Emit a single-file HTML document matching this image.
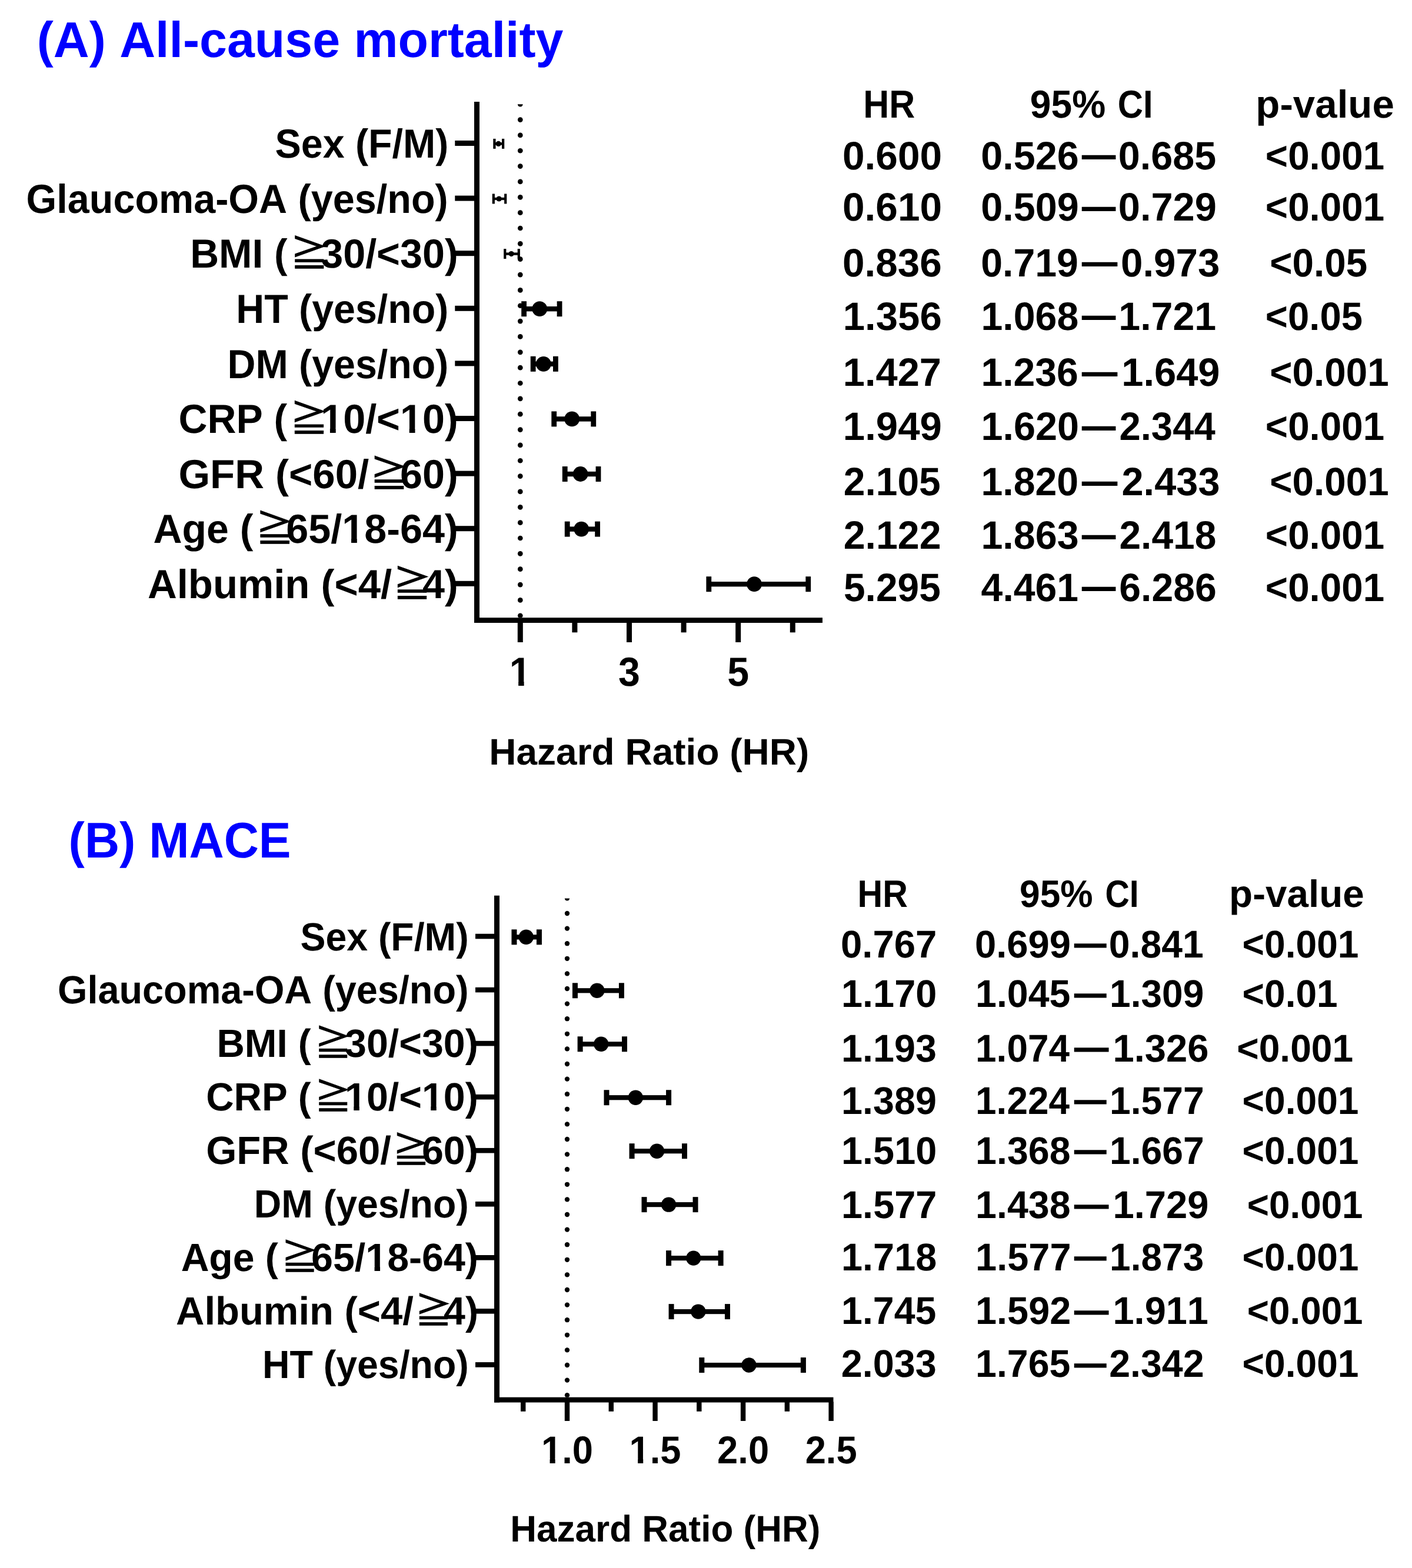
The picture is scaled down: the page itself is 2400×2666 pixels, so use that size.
<!DOCTYPE html>
<html lang="en">
<head>
<meta charset="utf-8">
<title>Forest plot: hazard ratios for all-cause mortality and MACE</title>
<style>
html,body{margin:0;padding:0;background:#fff;}
body{width:2400px;height:2666px;overflow:hidden;}
svg{display:block;}
text{font-family:"Liberation Sans",Arial,Helvetica,sans-serif;font-weight:700;white-space:pre;font-kerning:none;font-variant-ligatures:none;text-rendering:geometricPrecision;}
text.g{font-family:"IPAGothic","Noto Sans CJK JP","WenQuanYi Zen Hei",sans-serif;font-weight:400;}
</style>
</head>
<body>
<svg width="2400" height="2666" viewBox="0 0 2400 2666">
<rect x="0" y="0" width="2400" height="2666" fill="#fff"/>
<g id="panelA">
<text class="a" transform="translate(62.80 96.50) scale(0.9859 1.0000)" font-size="85.50" fill="#0000ff">(A) All-cause mortality</text>
<rect x="806.00" y="173.00" width="9.00" height="886.00" fill="#000"/>
<rect x="806.00" y="1050.20" width="592.00" height="8.80" fill="#000"/>
<rect x="879.80" y="1058.00" width="9.00" height="34.00" fill="#000"/>
<text class="a" transform="translate(865.86 1165.70) scale(1.0000 1.0400)" font-size="66.30" fill="#000">1</text>
<rect class="m" x="868.52" y="1157.46" width="12.62" height="9.24" fill="#fff"/>
<rect class="m" x="890.63" y="1157.46" width="11.56" height="9.24" fill="#fff"/>
<rect x="1065.00" y="1058.00" width="9.00" height="34.00" fill="#000"/>
<text class="a" transform="translate(1051.06 1165.70) scale(1.0000 1.0400)" font-size="66.30" fill="#000">3</text>
<rect x="1250.20" y="1058.00" width="9.00" height="34.00" fill="#000"/>
<text class="a" transform="translate(1236.26 1165.70) scale(1.0000 1.0400)" font-size="66.30" fill="#000">5</text>
<rect x="972.40" y="1058.00" width="9.00" height="17.30" fill="#000"/>
<rect x="1157.60" y="1058.00" width="9.00" height="17.30" fill="#000"/>
<rect x="1342.80" y="1058.00" width="9.00" height="17.30" fill="#000"/>
<clipPath id="clip173"><rect x="874.30" y="177.30" width="20" height="872.90"/></clipPath>
<g clip-path="url(#clip173)">
<circle cx="884.30" cy="177.20" r="4.35" fill="#000"/>
<circle cx="884.30" cy="203.55" r="4.35" fill="#000"/>
<circle cx="884.30" cy="229.90" r="4.35" fill="#000"/>
<circle cx="884.30" cy="256.25" r="4.35" fill="#000"/>
<circle cx="884.30" cy="282.60" r="4.35" fill="#000"/>
<circle cx="884.30" cy="308.95" r="4.35" fill="#000"/>
<circle cx="884.30" cy="335.30" r="4.35" fill="#000"/>
<circle cx="884.30" cy="361.65" r="4.35" fill="#000"/>
<circle cx="884.30" cy="388.00" r="4.35" fill="#000"/>
<circle cx="884.30" cy="414.35" r="4.35" fill="#000"/>
<circle cx="884.30" cy="440.70" r="4.35" fill="#000"/>
<circle cx="884.30" cy="467.05" r="4.35" fill="#000"/>
<circle cx="884.30" cy="493.40" r="4.35" fill="#000"/>
<circle cx="884.30" cy="519.75" r="4.35" fill="#000"/>
<circle cx="884.30" cy="546.10" r="4.35" fill="#000"/>
<circle cx="884.30" cy="572.45" r="4.35" fill="#000"/>
<circle cx="884.30" cy="598.80" r="4.35" fill="#000"/>
<circle cx="884.30" cy="625.15" r="4.35" fill="#000"/>
<circle cx="884.30" cy="651.50" r="4.35" fill="#000"/>
<circle cx="884.30" cy="677.85" r="4.35" fill="#000"/>
<circle cx="884.30" cy="704.20" r="4.35" fill="#000"/>
<circle cx="884.30" cy="730.55" r="4.35" fill="#000"/>
<circle cx="884.30" cy="756.90" r="4.35" fill="#000"/>
<circle cx="884.30" cy="783.25" r="4.35" fill="#000"/>
<circle cx="884.30" cy="809.60" r="4.35" fill="#000"/>
<circle cx="884.30" cy="835.95" r="4.35" fill="#000"/>
<circle cx="884.30" cy="862.30" r="4.35" fill="#000"/>
<circle cx="884.30" cy="888.65" r="4.35" fill="#000"/>
<circle cx="884.30" cy="915.00" r="4.35" fill="#000"/>
<circle cx="884.30" cy="941.35" r="4.35" fill="#000"/>
<circle cx="884.30" cy="967.70" r="4.35" fill="#000"/>
<circle cx="884.30" cy="994.05" r="4.35" fill="#000"/>
<circle cx="884.30" cy="1020.40" r="4.35" fill="#000"/>
<circle cx="884.30" cy="1046.75" r="4.35" fill="#000"/>
</g>
<rect x="773.30" y="239.00" width="33.70" height="9.00" fill="#000"/>
<text class="a" transform="translate(467.61 268.10) scale(1.0000 1.0400)" font-size="66.30" fill="#000">Sex (F/M)</text>
<rect x="840.41" y="242.25" width="14.72" height="4.30" fill="#000"/>
<rect x="838.31" y="235.90" width="4.20" height="17.00" fill="#000"/>
<rect x="853.03" y="235.90" width="4.20" height="17.00" fill="#000"/>
<circle cx="847.26" cy="244.40" r="4.60" fill="#000"/>
<rect x="773.30" y="332.60" width="33.70" height="9.00" fill="#000"/>
<text class="a" transform="translate(44.57 361.70) scale(1.0034 1.0400)" font-size="66.30" fill="#000">Glaucoma-OA (yes/no)</text>
<rect x="838.83" y="335.85" width="20.37" height="4.30" fill="#000"/>
<rect x="836.73" y="329.50" width="4.20" height="17.00" fill="#000"/>
<rect x="857.11" y="329.50" width="4.20" height="17.00" fill="#000"/>
<circle cx="848.19" cy="338.00" r="4.60" fill="#000"/>
<rect x="773.30" y="426.20" width="33.70" height="9.00" fill="#000"/>
<text class="a" transform="translate(323.17 455.30) scale(1.0214 1.0400)" font-size="66.30" fill="#000">BMI (</text>
<text class="a" transform="translate(545.19 455.30) scale(1.0300 1.0400)" font-size="66.30" fill="#000">30/&lt;30)</text>
<text class="g" transform="translate(490.68 456.15) scale(1.05 1.053)" font-size="66.78" stroke="#000" stroke-width="1.0">≧</text>
<rect x="858.28" y="429.45" width="23.52" height="4.30" fill="#000"/>
<rect x="856.18" y="423.10" width="4.20" height="17.00" fill="#000"/>
<rect x="879.70" y="423.10" width="4.20" height="17.00" fill="#000"/>
<circle cx="869.11" cy="431.60" r="4.60" fill="#000"/>
<rect x="773.30" y="519.80" width="33.70" height="9.00" fill="#000"/>
<text class="a" transform="translate(401.31 548.90) scale(1.0000 1.0400)" font-size="66.30" fill="#000">HT (yes/no)</text>
<rect x="890.60" y="521.00" width="60.47" height="8.40" fill="#000"/>
<rect x="886.20" y="512.20" width="8.80" height="26.00" fill="#000"/>
<rect x="946.66" y="512.20" width="8.80" height="26.00" fill="#000"/>
<circle cx="917.27" cy="525.20" r="12.90" fill="#000"/>
<rect x="773.30" y="613.40" width="33.70" height="9.00" fill="#000"/>
<text class="a" transform="translate(386.58 642.50) scale(1.0000 1.0400)" font-size="66.30" fill="#000">DM (yes/no)</text>
<rect x="906.15" y="614.60" width="38.24" height="8.40" fill="#000"/>
<rect x="901.75" y="605.80" width="8.80" height="26.00" fill="#000"/>
<rect x="940.00" y="605.80" width="8.80" height="26.00" fill="#000"/>
<circle cx="923.84" cy="618.80" r="12.90" fill="#000"/>
<rect x="773.30" y="707.00" width="33.70" height="9.00" fill="#000"/>
<text class="a" transform="translate(303.52 736.10) scale(1.0220 1.0400)" font-size="66.30" fill="#000">CRP (</text>
<text class="a" transform="translate(545.19 736.10) scale(1.0300 1.0400)" font-size="66.30" fill="#000">10/&lt;10)</text>
<rect class="m" x="547.92" y="727.86" width="13.01" height="9.24" fill="#fff"/>
<rect class="m" x="570.70" y="727.86" width="11.91" height="9.24" fill="#fff"/>
<rect class="m" x="682.73" y="727.86" width="13.01" height="9.24" fill="#fff"/>
<rect class="m" x="705.51" y="727.86" width="11.91" height="9.24" fill="#fff"/>
<text class="g" transform="translate(490.13 736.95) scale(1.05 1.053)" font-size="67.06" stroke="#000" stroke-width="1.0">≧</text>
<rect x="941.71" y="708.20" width="67.04" height="8.40" fill="#000"/>
<rect x="937.31" y="699.40" width="8.80" height="26.00" fill="#000"/>
<rect x="1004.35" y="699.40" width="8.80" height="26.00" fill="#000"/>
<circle cx="972.18" cy="712.40" r="12.90" fill="#000"/>
<rect x="773.30" y="800.60" width="33.70" height="9.00" fill="#000"/>
<text class="a" transform="translate(303.47 829.70) scale(1.0397 1.0400)" font-size="66.30" fill="#000">GFR (&lt;60/</text>
<text class="a" transform="translate(680.00 829.70) scale(1.0300 1.0400)" font-size="66.30" fill="#000">60)</text>
<text class="g" transform="translate(626.04 830.55) scale(1.05 1.053)" font-size="67.62" stroke="#000" stroke-width="1.0">≧</text>
<rect x="960.23" y="801.80" width="56.76" height="8.40" fill="#000"/>
<rect x="955.83" y="793.00" width="8.80" height="26.00" fill="#000"/>
<rect x="1012.60" y="793.00" width="8.80" height="26.00" fill="#000"/>
<circle cx="986.62" cy="806.00" r="12.90" fill="#000"/>
<rect x="773.30" y="894.20" width="33.70" height="9.00" fill="#000"/>
<text class="a" transform="translate(260.61 923.30) scale(1.0236 1.0400)" font-size="66.30" fill="#000">Age (</text>
<text class="a" transform="translate(486.37 923.30) scale(1.0300 1.0400)" font-size="66.30" fill="#000">65/18-64)</text>
<rect class="m" x="584.03" y="915.06" width="13.01" height="9.24" fill="#fff"/>
<rect class="m" x="606.81" y="915.06" width="11.91" height="9.24" fill="#fff"/>
<text class="g" transform="translate(431.76 924.15) scale(1.05 1.053)" font-size="67.48" stroke="#000" stroke-width="1.0">≧</text>
<rect x="964.21" y="895.40" width="51.39" height="8.40" fill="#000"/>
<rect x="959.81" y="886.60" width="8.80" height="26.00" fill="#000"/>
<rect x="1011.21" y="886.60" width="8.80" height="26.00" fill="#000"/>
<circle cx="988.20" cy="899.60" r="12.90" fill="#000"/>
<rect x="773.30" y="987.80" width="33.70" height="9.00" fill="#000"/>
<text class="a" transform="translate(250.99 1016.90) scale(1.0386 1.0400)" font-size="66.30" fill="#000">Albumin (&lt;4/</text>
<text class="a" transform="translate(717.98 1016.90) scale(1.0300 1.0400)" font-size="66.30" fill="#000">4)</text>
<text class="g" transform="translate(665.31 1017.75) scale(1.05 1.053)" font-size="67.20" stroke="#000" stroke-width="1.0">≧</text>
<rect x="1204.79" y="989.00" width="168.99" height="8.40" fill="#000"/>
<rect x="1200.39" y="980.20" width="8.80" height="26.00" fill="#000"/>
<rect x="1369.38" y="980.20" width="8.80" height="26.00" fill="#000"/>
<circle cx="1282.02" cy="993.20" r="12.90" fill="#000"/>
<text class="a" transform="translate(831.22 1300.00) scale(1.0161 1.0000)" font-size="63.00" fill="#000">Hazard Ratio (HR)</text>
</g>
<g id="tableA">
<text class="a" transform="translate(1467.22 199.80) scale(0.9179 1.0000)" font-size="66.40" fill="#000">HR</text>
<text class="a" transform="translate(1750.78 199.80) scale(0.9663 1.0000)" font-size="66.40" fill="#000">95%</text>
<text class="a" transform="translate(1899.74 199.80) scale(0.9015 1.0000)" font-size="66.40" fill="#000">CI</text>
<text class="a" transform="translate(2134.37 199.80) scale(1.0128 1.0000)" font-size="66.40" fill="#000">p-value</text>
<text class="a" transform="translate(1431.93 287.50) scale(1.0186 1.0120)" font-size="66.40" fill="#000">0.600</text>
<text class="a" transform="translate(1667.17 287.50) scale(1.0023 1.0120)" font-size="66.40" fill="#000">0.526</text>
<text class="a" transform="translate(1838.70 287.10) scale(0.8690 1.1000)" font-size="66.40" fill="#000">—</text>
<text class="a" transform="translate(1900.77 287.50) scale(1.0019 1.0120)" font-size="66.40" fill="#000">0.685</text>
<text class="a" transform="translate(2150.85 287.50) scale(0.9875 1.0120)" font-size="66.40" fill="#000">&lt;0.001</text>
<text class="a" transform="translate(1431.93 375.30) scale(1.0186 1.0120)" font-size="66.40" fill="#000">0.610</text>
<text class="a" transform="translate(1667.17 375.30) scale(1.0027 1.0120)" font-size="66.40" fill="#000">0.509</text>
<text class="a" transform="translate(1838.70 374.90) scale(0.8690 1.1000)" font-size="66.40" fill="#000">—</text>
<text class="a" transform="translate(1900.76 375.30) scale(1.0058 1.0120)" font-size="66.40" fill="#000">0.729</text>
<text class="a" transform="translate(2150.85 375.30) scale(0.9875 1.0120)" font-size="66.40" fill="#000">&lt;0.001</text>
<text class="a" transform="translate(1431.93 469.80) scale(1.0165 1.0120)" font-size="66.40" fill="#000">0.836</text>
<text class="a" transform="translate(1667.18 469.80) scale(0.9977 1.0120)" font-size="66.40" fill="#000">0.719</text>
<text class="a" transform="translate(1838.70 469.40) scale(0.9127 1.1000)" font-size="66.40" fill="#000">—</text>
<text class="a" transform="translate(1904.94 469.80) scale(1.0147 1.0120)" font-size="66.40" fill="#000">0.973</text>
<text class="a" transform="translate(2158.24 469.80) scale(0.9885 1.0120)" font-size="66.40" fill="#000">&lt;0.05</text>
<text class="a" transform="translate(1432.77 560.80) scale(1.0114 1.0120)" font-size="66.40" fill="#000">1.356</text>
<text class="a" transform="translate(1667.42 560.80) scale(0.9985 1.0120)" font-size="66.40" fill="#000">1.068</text>
<text class="a" transform="translate(1838.70 560.40) scale(0.8690 1.1000)" font-size="66.40" fill="#000">—</text>
<text class="a" transform="translate(1901.32 560.80) scale(0.9986 1.0120)" font-size="66.40" fill="#000">1.721</text>
<text class="a" transform="translate(2150.86 560.80) scale(0.9836 1.0120)" font-size="66.40" fill="#000">&lt;0.05</text>
<text class="a" transform="translate(1432.79 656.30) scale(1.0059 1.0120)" font-size="66.40" fill="#000">1.427</text>
<text class="a" transform="translate(1667.44 656.30) scale(0.9957 1.0120)" font-size="66.40" fill="#000">1.236</text>
<text class="a" transform="translate(1838.70 655.90) scale(0.9127 1.1000)" font-size="66.40" fill="#000">—</text>
<text class="a" transform="translate(1906.19 656.30) scale(1.0074 1.0120)" font-size="66.40" fill="#000">1.649</text>
<text class="a" transform="translate(2158.25 656.30) scale(0.9875 1.0120)" font-size="66.40" fill="#000">&lt;0.001</text>
<text class="a" transform="translate(1432.77 747.90) scale(1.0118 1.0120)" font-size="66.40" fill="#000">1.949</text>
<text class="a" transform="translate(1667.41 747.90) scale(1.0028 1.0120)" font-size="66.40" fill="#000">1.620</text>
<text class="a" transform="translate(1838.70 747.50) scale(0.8690 1.1000)" font-size="66.40" fill="#000">—</text>
<text class="a" transform="translate(1902.44 747.90) scale(0.9829 1.0120)" font-size="66.40" fill="#000">2.344</text>
<text class="a" transform="translate(2150.85 747.90) scale(0.9875 1.0120)" font-size="66.40" fill="#000">&lt;0.001</text>
<text class="a" transform="translate(1433.71 842.30) scale(0.9938 1.0120)" font-size="66.40" fill="#000">2.105</text>
<text class="a" transform="translate(1667.43 842.30) scale(0.9978 1.0120)" font-size="66.40" fill="#000">1.820</text>
<text class="a" transform="translate(1838.70 841.90) scale(0.9127 1.1000)" font-size="66.40" fill="#000">—</text>
<text class="a" transform="translate(1906.49 842.30) scale(1.0052 1.0120)" font-size="66.40" fill="#000">2.433</text>
<text class="a" transform="translate(2158.25 842.30) scale(0.9875 1.0120)" font-size="66.40" fill="#000">&lt;0.001</text>
<text class="a" transform="translate(1433.70 933.10) scale(0.9987 1.0120)" font-size="66.40" fill="#000">2.122</text>
<text class="a" transform="translate(1667.41 933.10) scale(1.0007 1.0120)" font-size="66.40" fill="#000">1.863</text>
<text class="a" transform="translate(1838.70 932.70) scale(0.8690 1.1000)" font-size="66.40" fill="#000">—</text>
<text class="a" transform="translate(1902.41 933.10) scale(0.9931 1.0120)" font-size="66.40" fill="#000">2.418</text>
<text class="a" transform="translate(2150.85 933.10) scale(0.9875 1.0120)" font-size="66.40" fill="#000">&lt;0.001</text>
<text class="a" transform="translate(1433.97 1021.80) scale(0.9922 1.0120)" font-size="66.40" fill="#000">5.295</text>
<text class="a" transform="translate(1667.60 1021.80) scale(0.9963 1.0120)" font-size="66.40" fill="#000">4.461</text>
<text class="a" transform="translate(1838.70 1021.40) scale(0.8690 1.1000)" font-size="66.40" fill="#000">—</text>
<text class="a" transform="translate(1902.28 1021.80) scale(0.9961 1.0120)" font-size="66.40" fill="#000">6.286</text>
<text class="a" transform="translate(2150.85 1021.80) scale(0.9875 1.0120)" font-size="66.40" fill="#000">&lt;0.001</text>
</g>
<g id="panelB">
<text class="a" transform="translate(116.62 1458.00) scale(0.9609 1.0000)" font-size="85.30" fill="#0000ff">(B) MACE</text>
<rect x="840.00" y="1522.70" width="9.00" height="861.80" fill="#000"/>
<rect x="840.00" y="2375.70" width="576.50" height="8.80" fill="#000"/>
<rect x="959.80" y="2383.50" width="8.40" height="32.50" fill="#000"/>
<text class="a" transform="translate(920.00 2487.80) scale(1.0000 1.0400)" font-size="63.30" fill="#000">1.0</text>
<rect class="m" x="922.53" y="2479.88" width="12.04" height="8.92" fill="#fff"/>
<rect class="m" x="943.66" y="2479.88" width="11.03" height="8.92" fill="#fff"/>
<rect x="1109.35" y="2383.50" width="8.40" height="32.50" fill="#000"/>
<text class="a" transform="translate(1069.55 2487.80) scale(1.0000 1.0400)" font-size="63.30" fill="#000">1.5</text>
<rect class="m" x="1072.08" y="2479.88" width="12.04" height="8.92" fill="#fff"/>
<rect class="m" x="1093.21" y="2479.88" width="11.03" height="8.92" fill="#fff"/>
<rect x="1258.90" y="2383.50" width="8.40" height="32.50" fill="#000"/>
<text class="a" transform="translate(1219.10 2487.80) scale(1.0000 1.0400)" font-size="63.30" fill="#000">2.0</text>
<rect x="1408.45" y="2383.50" width="8.40" height="32.50" fill="#000"/>
<text class="a" transform="translate(1368.65 2487.80) scale(1.0000 1.0400)" font-size="63.30" fill="#000">2.5</text>
<rect x="885.02" y="2383.50" width="8.40" height="16.30" fill="#000"/>
<rect x="1034.58" y="2383.50" width="8.40" height="16.30" fill="#000"/>
<rect x="1184.12" y="2383.50" width="8.40" height="16.30" fill="#000"/>
<rect x="1333.67" y="2383.50" width="8.40" height="16.30" fill="#000"/>
<clipPath id="clip1522"><rect x="954.00" y="1527.40" width="20" height="848.30"/></clipPath>
<g clip-path="url(#clip1522)">
<circle cx="964.00" cy="1527.40" r="4.15" fill="#000"/>
<circle cx="964.00" cy="1553.00" r="4.15" fill="#000"/>
<circle cx="964.00" cy="1578.60" r="4.15" fill="#000"/>
<circle cx="964.00" cy="1604.20" r="4.15" fill="#000"/>
<circle cx="964.00" cy="1629.80" r="4.15" fill="#000"/>
<circle cx="964.00" cy="1655.40" r="4.15" fill="#000"/>
<circle cx="964.00" cy="1681.00" r="4.15" fill="#000"/>
<circle cx="964.00" cy="1706.60" r="4.15" fill="#000"/>
<circle cx="964.00" cy="1732.20" r="4.15" fill="#000"/>
<circle cx="964.00" cy="1757.80" r="4.15" fill="#000"/>
<circle cx="964.00" cy="1783.40" r="4.15" fill="#000"/>
<circle cx="964.00" cy="1809.00" r="4.15" fill="#000"/>
<circle cx="964.00" cy="1834.60" r="4.15" fill="#000"/>
<circle cx="964.00" cy="1860.20" r="4.15" fill="#000"/>
<circle cx="964.00" cy="1885.80" r="4.15" fill="#000"/>
<circle cx="964.00" cy="1911.40" r="4.15" fill="#000"/>
<circle cx="964.00" cy="1937.00" r="4.15" fill="#000"/>
<circle cx="964.00" cy="1962.60" r="4.15" fill="#000"/>
<circle cx="964.00" cy="1988.20" r="4.15" fill="#000"/>
<circle cx="964.00" cy="2013.80" r="4.15" fill="#000"/>
<circle cx="964.00" cy="2039.40" r="4.15" fill="#000"/>
<circle cx="964.00" cy="2065.00" r="4.15" fill="#000"/>
<circle cx="964.00" cy="2090.60" r="4.15" fill="#000"/>
<circle cx="964.00" cy="2116.20" r="4.15" fill="#000"/>
<circle cx="964.00" cy="2141.80" r="4.15" fill="#000"/>
<circle cx="964.00" cy="2167.40" r="4.15" fill="#000"/>
<circle cx="964.00" cy="2193.00" r="4.15" fill="#000"/>
<circle cx="964.00" cy="2218.60" r="4.15" fill="#000"/>
<circle cx="964.00" cy="2244.20" r="4.15" fill="#000"/>
<circle cx="964.00" cy="2269.80" r="4.15" fill="#000"/>
<circle cx="964.00" cy="2295.40" r="4.15" fill="#000"/>
<circle cx="964.00" cy="2321.00" r="4.15" fill="#000"/>
<circle cx="964.00" cy="2346.60" r="4.15" fill="#000"/>
<circle cx="964.00" cy="2372.20" r="4.15" fill="#000"/>
</g>
<rect x="808.00" y="1587.70" width="33.00" height="8.60" fill="#000"/>
<text class="a" transform="translate(510.46 1615.50) scale(1.0000 1.0400)" font-size="64.40" fill="#000">Sex (F/M)</text>
<rect x="873.97" y="1589.20" width="42.47" height="8.20" fill="#000"/>
<rect x="869.47" y="1580.30" width="9.00" height="26.00" fill="#000"/>
<rect x="911.94" y="1580.30" width="9.00" height="26.00" fill="#000"/>
<circle cx="894.31" cy="1593.30" r="12.70" fill="#000"/>
<rect x="808.00" y="1678.75" width="33.00" height="8.60" fill="#000"/>
<text class="a" transform="translate(98.04 1706.44) scale(1.0064 1.0400)" font-size="64.40" fill="#000">Glaucoma-OA (yes/no)</text>
<rect x="977.46" y="1680.17" width="78.96" height="8.20" fill="#000"/>
<rect x="972.96" y="1671.27" width="9.00" height="26.00" fill="#000"/>
<rect x="1051.92" y="1671.27" width="9.00" height="26.00" fill="#000"/>
<circle cx="1014.85" cy="1684.27" r="12.70" fill="#000"/>
<rect x="808.00" y="1769.80" width="33.00" height="8.60" fill="#000"/>
<text class="a" transform="translate(368.52 1797.38) scale(1.0176 1.0400)" font-size="64.40" fill="#000">BMI (</text>
<text class="a" transform="translate(585.99 1797.38) scale(1.0300 1.0400)" font-size="64.40" fill="#000">30/&lt;30)</text>
<text class="g" transform="translate(532.03 1798.23) scale(1.05 1.053)" font-size="65.24" stroke="#000" stroke-width="1.0">≧</text>
<rect x="986.13" y="1771.14" width="75.37" height="8.20" fill="#000"/>
<rect x="981.63" y="1762.24" width="9.00" height="26.00" fill="#000"/>
<rect x="1057.01" y="1762.24" width="9.00" height="26.00" fill="#000"/>
<circle cx="1021.73" cy="1775.24" r="12.70" fill="#000"/>
<rect x="808.00" y="1860.85" width="33.00" height="8.60" fill="#000"/>
<text class="a" transform="translate(350.21 1888.32) scale(1.0179 1.0400)" font-size="64.40" fill="#000">CRP (</text>
<text class="a" transform="translate(585.99 1888.32) scale(1.0300 1.0400)" font-size="64.40" fill="#000">10/&lt;10)</text>
<rect class="m" x="588.64" y="1880.28" width="12.63" height="9.04" fill="#fff"/>
<rect class="m" x="610.77" y="1880.28" width="11.57" height="9.04" fill="#fff"/>
<rect class="m" x="719.59" y="1880.28" width="12.63" height="9.04" fill="#fff"/>
<rect class="m" x="741.72" y="1880.28" width="11.57" height="9.04" fill="#fff"/>
<text class="g" transform="translate(532.03 1889.17) scale(1.05 1.053)" font-size="65.24" stroke="#000" stroke-width="1.0">≧</text>
<rect x="1031.00" y="1862.11" width="105.58" height="8.20" fill="#000"/>
<rect x="1026.50" y="1853.21" width="9.00" height="26.00" fill="#000"/>
<rect x="1132.08" y="1853.21" width="9.00" height="26.00" fill="#000"/>
<circle cx="1080.35" cy="1866.21" r="12.70" fill="#000"/>
<rect x="808.00" y="1951.90" width="33.00" height="8.60" fill="#000"/>
<text class="a" transform="translate(350.15 1979.26) scale(1.0410 1.0400)" font-size="64.40" fill="#000">GFR (&lt;60/</text>
<text class="a" transform="translate(716.93 1979.26) scale(1.0300 1.0400)" font-size="64.40" fill="#000">60)</text>
<text class="g" transform="translate(664.56 1980.11) scale(1.05 1.053)" font-size="65.66" stroke="#000" stroke-width="1.0">≧</text>
<rect x="1074.07" y="1953.08" width="89.43" height="8.20" fill="#000"/>
<rect x="1069.57" y="1944.18" width="9.00" height="26.00" fill="#000"/>
<rect x="1159.00" y="1944.18" width="9.00" height="26.00" fill="#000"/>
<circle cx="1116.54" cy="1957.18" r="12.70" fill="#000"/>
<rect x="808.00" y="2042.95" width="33.00" height="8.60" fill="#000"/>
<text class="a" transform="translate(431.75 2070.20) scale(1.0000 1.0400)" font-size="64.40" fill="#000">DM (yes/no)</text>
<rect x="1095.01" y="2044.05" width="87.04" height="8.20" fill="#000"/>
<rect x="1090.51" y="2035.15" width="9.00" height="26.00" fill="#000"/>
<rect x="1177.54" y="2035.15" width="9.00" height="26.00" fill="#000"/>
<circle cx="1136.58" cy="2048.15" r="12.70" fill="#000"/>
<rect x="808.00" y="2134.00" width="33.00" height="8.60" fill="#000"/>
<text class="a" transform="translate(307.65 2161.14) scale(1.0262 1.0400)" font-size="64.40" fill="#000">Age (</text>
<text class="a" transform="translate(529.05 2161.14) scale(1.0300 1.0400)" font-size="64.40" fill="#000">65/18-64)</text>
<rect class="m" x="623.92" y="2153.10" width="12.63" height="9.04" fill="#fff"/>
<rect class="m" x="646.05" y="2153.10" width="11.57" height="9.04" fill="#fff"/>
<text class="g" transform="translate(475.21 2161.99) scale(1.05 1.053)" font-size="65.38" stroke="#000" stroke-width="1.0">≧</text>
<rect x="1136.58" y="2135.02" width="88.53" height="8.20" fill="#000"/>
<rect x="1132.08" y="2126.12" width="9.00" height="26.00" fill="#000"/>
<rect x="1220.61" y="2126.12" width="9.00" height="26.00" fill="#000"/>
<circle cx="1178.75" cy="2139.12" r="12.70" fill="#000"/>
<rect x="808.00" y="2225.05" width="33.00" height="8.60" fill="#000"/>
<text class="a" transform="translate(299.03 2252.08) scale(1.0402 1.0400)" font-size="64.40" fill="#000">Albumin (&lt;4/</text>
<text class="a" transform="translate(754.02 2252.08) scale(1.0300 1.0400)" font-size="64.40" fill="#000">4)</text>
<text class="g" transform="translate(702.51 2252.93) scale(1.05 1.053)" font-size="65.38" stroke="#000" stroke-width="1.0">≧</text>
<rect x="1141.07" y="2225.99" width="95.41" height="8.20" fill="#000"/>
<rect x="1136.57" y="2217.09" width="9.00" height="26.00" fill="#000"/>
<rect x="1231.98" y="2217.09" width="9.00" height="26.00" fill="#000"/>
<circle cx="1186.83" cy="2230.09" r="12.70" fill="#000"/>
<rect x="808.00" y="2316.10" width="33.00" height="8.60" fill="#000"/>
<text class="a" transform="translate(446.06 2343.02) scale(1.0000 1.0400)" font-size="64.40" fill="#000">HT (yes/no)</text>
<rect x="1192.81" y="2316.96" width="172.58" height="8.20" fill="#000"/>
<rect x="1188.31" y="2308.06" width="9.00" height="26.00" fill="#000"/>
<rect x="1360.89" y="2308.06" width="9.00" height="26.00" fill="#000"/>
<circle cx="1272.97" cy="2321.06" r="12.70" fill="#000"/>
<text class="a" transform="translate(867.35 2621.20) scale(0.9841 1.0000)" font-size="63.00" fill="#000">Hazard Ratio (HR)</text>
</g>
<g id="tableB">
<text class="a" transform="translate(1457.54 1541.50) scale(0.9118 1.0000)" font-size="64.90" fill="#000">HR</text>
<text class="a" transform="translate(1733.04 1541.50) scale(0.9592 1.0000)" font-size="64.90" fill="#000">95%</text>
<text class="a" transform="translate(1878.45 1541.50) scale(0.8826 1.0000)" font-size="64.90" fill="#000">CI</text>
<text class="a" transform="translate(2089.08 1541.50) scale(1.0108 1.0000)" font-size="64.90" fill="#000">p-value</text>
<text class="a" transform="translate(1428.91 1627.60) scale(1.0071 1.0120)" font-size="64.90" fill="#000">0.767</text>
<text class="a" transform="translate(1656.92 1627.60) scale(1.0049 1.0120)" font-size="64.90" fill="#000">0.699</text>
<text class="a" transform="translate(1825.80 1627.20) scale(0.8475 1.1000)" font-size="64.90" fill="#000">—</text>
<text class="a" transform="translate(1884.86 1627.60) scale(0.9909 1.0120)" font-size="64.90" fill="#000">0.841</text>
<text class="a" transform="translate(2111.61 1627.60) scale(0.9879 1.0120)" font-size="64.90" fill="#000">&lt;0.001</text>
<text class="a" transform="translate(1430.02 1712.30) scale(0.9990 1.0120)" font-size="64.90" fill="#000">1.170</text>
<text class="a" transform="translate(1658.04 1712.30) scale(0.9942 1.0120)" font-size="64.90" fill="#000">1.045</text>
<text class="a" transform="translate(1825.80 1711.90) scale(0.8475 1.1000)" font-size="64.90" fill="#000">—</text>
<text class="a" transform="translate(1886.06 1712.30) scale(0.9871 1.0120)" font-size="64.90" fill="#000">1.309</text>
<text class="a" transform="translate(2111.61 1712.30) scale(0.9876 1.0120)" font-size="64.90" fill="#000">&lt;0.01</text>
<text class="a" transform="translate(1430.02 1804.60) scale(0.9970 1.0120)" font-size="64.90" fill="#000">1.193</text>
<text class="a" transform="translate(1658.07 1804.60) scale(0.9850 1.0120)" font-size="64.90" fill="#000">1.074</text>
<text class="a" transform="translate(1825.80 1804.20) scale(0.9060 1.1000)" font-size="64.90" fill="#000">—</text>
<text class="a" transform="translate(1891.50 1804.60) scale(1.0040 1.0120)" font-size="64.90" fill="#000">1.326</text>
<text class="a" transform="translate(2102.21 1804.60) scale(0.9884 1.0120)" font-size="64.90" fill="#000">&lt;0.001</text>
<text class="a" transform="translate(1430.02 1893.60) scale(0.9974 1.0120)" font-size="64.90" fill="#000">1.389</text>
<text class="a" transform="translate(1658.07 1893.60) scale(0.9850 1.0120)" font-size="64.90" fill="#000">1.224</text>
<text class="a" transform="translate(1825.80 1893.20) scale(0.8475 1.1000)" font-size="64.90" fill="#000">—</text>
<text class="a" transform="translate(1886.05 1893.60) scale(0.9899 1.0120)" font-size="64.90" fill="#000">1.577</text>
<text class="a" transform="translate(2111.61 1893.60) scale(0.9879 1.0120)" font-size="64.90" fill="#000">&lt;0.001</text>
<text class="a" transform="translate(1430.02 1978.50) scale(0.9990 1.0120)" font-size="64.90" fill="#000">1.510</text>
<text class="a" transform="translate(1658.03 1978.50) scale(0.9954 1.0120)" font-size="64.90" fill="#000">1.368</text>
<text class="a" transform="translate(1825.80 1978.10) scale(0.8475 1.1000)" font-size="64.90" fill="#000">—</text>
<text class="a" transform="translate(1886.05 1978.50) scale(0.9899 1.0120)" font-size="64.90" fill="#000">1.667</text>
<text class="a" transform="translate(2111.61 1978.50) scale(0.9879 1.0120)" font-size="64.90" fill="#000">&lt;0.001</text>
<text class="a" transform="translate(1430.01 2071.00) scale(1.0002 1.0120)" font-size="64.90" fill="#000">1.577</text>
<text class="a" transform="translate(1658.03 2071.00) scale(0.9954 1.0120)" font-size="64.90" fill="#000">1.438</text>
<text class="a" transform="translate(1825.80 2070.60) scale(0.9060 1.1000)" font-size="64.90" fill="#000">—</text>
<text class="a" transform="translate(1891.49 2071.00) scale(1.0044 1.0120)" font-size="64.90" fill="#000">1.729</text>
<text class="a" transform="translate(2119.82 2071.00) scale(0.9822 1.0120)" font-size="64.90" fill="#000">&lt;0.001</text>
<text class="a" transform="translate(1430.02 2159.60) scale(0.9992 1.0120)" font-size="64.90" fill="#000">1.718</text>
<text class="a" transform="translate(1658.01 2159.60) scale(1.0008 1.0120)" font-size="64.90" fill="#000">1.577</text>
<text class="a" transform="translate(1825.80 2159.20) scale(0.8475 1.1000)" font-size="64.90" fill="#000">—</text>
<text class="a" transform="translate(1886.07 2159.60) scale(0.9867 1.0120)" font-size="64.90" fill="#000">1.873</text>
<text class="a" transform="translate(2111.61 2159.60) scale(0.9879 1.0120)" font-size="64.90" fill="#000">&lt;0.001</text>
<text class="a" transform="translate(1430.04 2251.30) scale(0.9935 1.0120)" font-size="64.90" fill="#000">1.745</text>
<text class="a" transform="translate(1658.02 2251.30) scale(0.9992 1.0120)" font-size="64.90" fill="#000">1.592</text>
<text class="a" transform="translate(1825.80 2250.90) scale(0.9060 1.1000)" font-size="64.90" fill="#000">—</text>
<text class="a" transform="translate(1891.51 2251.30) scale(1.0005 1.0120)" font-size="64.90" fill="#000">1.911</text>
<text class="a" transform="translate(2119.82 2251.30) scale(0.9822 1.0120)" font-size="64.90" fill="#000">&lt;0.001</text>
<text class="a" transform="translate(1429.75 2340.90) scale(0.9986 1.0120)" font-size="64.90" fill="#000">2.033</text>
<text class="a" transform="translate(1658.04 2340.90) scale(0.9942 1.0120)" font-size="64.90" fill="#000">1.765</text>
<text class="a" transform="translate(1825.80 2340.50) scale(0.8475 1.1000)" font-size="64.90" fill="#000">—</text>
<text class="a" transform="translate(1885.16 2340.90) scale(0.9939 1.0120)" font-size="64.90" fill="#000">2.342</text>
<text class="a" transform="translate(2111.61 2340.90) scale(0.9879 1.0120)" font-size="64.90" fill="#000">&lt;0.001</text>
</g>
</svg>
</body>
</html>
